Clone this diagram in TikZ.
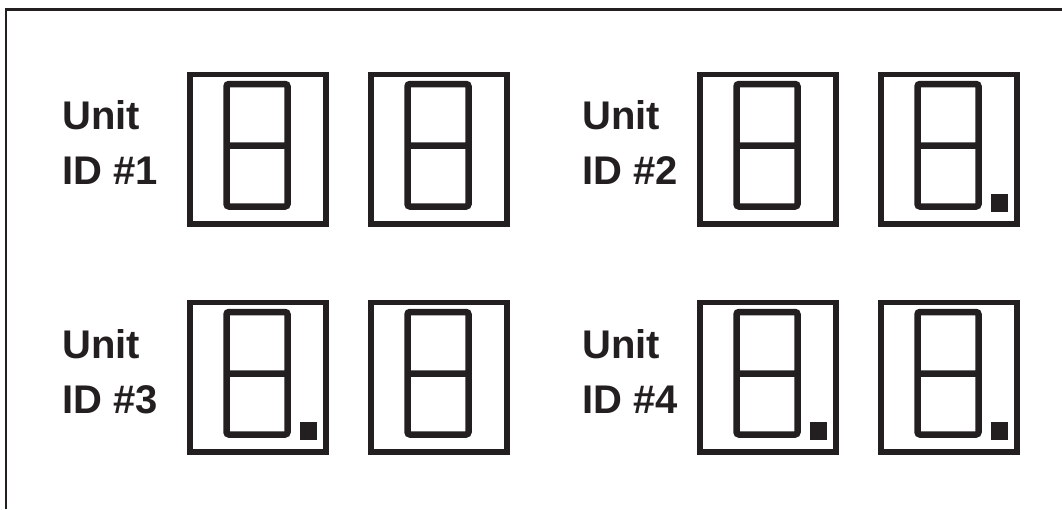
\documentclass[tikz,border=0pt]{standalone}
\usepackage{fontspec}
\setmainfont{Liberation Sans}
\definecolor{ink}{HTML}{231F20}
\tikzset{
  frame/.style={draw=ink, line width=2.5pt},
  unitbox/.style={draw=ink, line width=5.5pt, minimum width=136pt, minimum height=149.5pt, inner sep=0pt, outer sep=0pt},
  seg/.style={draw=ink, line width=6.5pt, rounded corners=2.5pt},
  dp/.style={fill=ink},
  lbl/.style={anchor=base west, inner sep=0pt, text=ink, font=\fontsize{40}{48}\selectfont\bfseries},
  cell/.pic={
    \node[unitbox] (-box) at (68,-74.75) {};
    \draw[seg] (36.5,-9.5) rectangle (97.5,-132) (36.5,-71) -- (97.5,-71);
  },
  celldp/.pic={
    \node[unitbox] (-box) at (68,-74.75) {};
    \draw[seg] (36.5,-9.5) rectangle (97.5,-132) (36.5,-71) -- (97.5,-71);
    \fill[dp] (110,-119.5) rectangle (127,-137);
  }
}
\begin{document}
\begin{tikzpicture}[x=1pt,y=1pt]
\useasboundingbox (0,0) rectangle (1062,-509);
\coordinate (fb) at (6,-509);
\coordinate (fc) at (6,-9.5);
\coordinate (fr) at (1062,-9.5);
\draw[frame] (fb) -- (fc) -- (fr);
% Unit 1
\node[lbl] (u1a) at (62,-129) {Unit};
\node[lbl] (u1b) at (62,-184) {ID \#1};
\pic (c1a) at (190,-74.5) {cell};
\pic (c1b) at (371,-74.5) {cell};
% Unit 2
\node[lbl] (u2a) at (582,-129) {Unit};
\node[lbl] (u2b) at (582,-184) {ID \#2};
\pic (c2a) at (700,-74.5) {cell};
\pic (c2b) at (881,-74.5) {celldp};
% Unit 3
\node[lbl] (u3a) at (62,-358) {Unit};
\node[lbl] (u3b) at (62,-413) {ID \#3};
\pic (c3a) at (190,-302.5) {celldp};
\pic (c3b) at (371,-302.5) {cell};
% Unit 4
\node[lbl] (u4a) at (582,-358) {Unit};
\node[lbl] (u4b) at (582,-413) {ID \#4};
\pic (c4a) at (700,-302.5) {celldp};
\pic (c4b) at (881,-302.5) {celldp};
\end{tikzpicture}
\end{document}
